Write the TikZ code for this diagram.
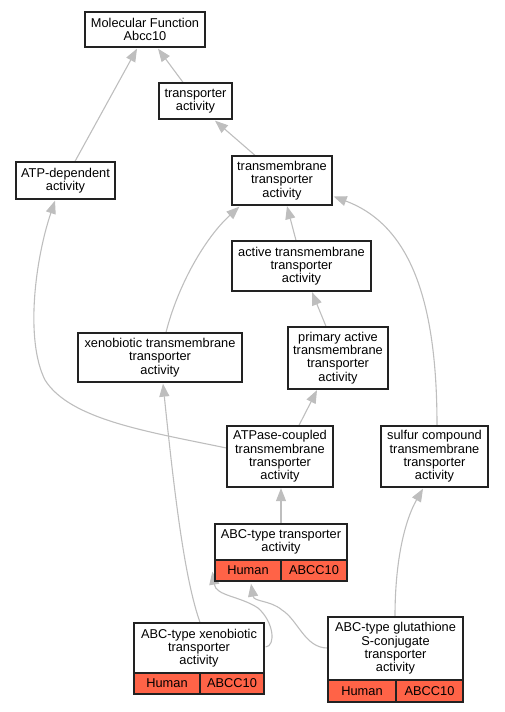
\documentclass[tikz,border=0pt]{standalone}
\usepackage{fontspec}
\setmainfont{Liberation Sans}
\usetikzlibrary{arrows.meta,calc,backgrounds}
\definecolor{cellred}{HTML}{FF6347}
\definecolor{edgegray}{HTML}{BEBEBE}
\definecolor{boxline}{HTML}{222222}
\begin{document}
\begin{tikzpicture}[x=1pt,y=-1pt,
  box/.style={draw=boxline,line width=1.3pt,fill=white,inner sep=0pt,align=center,
    font=\fontsize{12.8}{13.3}\selectfont},
  cell/.style={box,fill=cellred},
  edge/.style={draw=edgegray,line width=1.1pt,-{Triangle[length=13pt,width=10pt,fill=edgegray]}}]
\useasboundingbox (0,0) rectangle (504,712);
% nodes
\node[box,minimum width=120,minimum height=35] (mf) at (145,29.5) {Molecular Function\\Abcc10};
\node[box,minimum width=73,minimum height=36] (ta) at (195.5,101) {transporter\\activity};
\node[box,minimum width=99,minimum height=37] (atp) at (65.5,180.5) {ATP-dependent\\activity};
\node[box,minimum width=100,minimum height=49] (tm) at (282,180.5) {transmembrane\\transporter\\activity};
\node[box,minimum width=139,minimum height=50] (atm) at (301.5,266) {active transmembrane\\transporter\\activity};
\node[box,minimum width=100,minimum height=62] (pa) at (338,358) {primary active\\transmembrane\\transporter\\activity};
\node[box,minimum width=164,minimum height=49] (xtm) at (160,357.5) {xenobiotic transmembrane\\transporter\\activity};
\node[box,minimum width=106,minimum height=61] (atpase) at (280,456.5) {ATPase-coupled\\transmembrane\\transporter\\activity};
\node[box,minimum width=107,minimum height=61] (sulfur) at (434.5,456.5) {sulfur compound\\transmembrane\\transporter\\activity};
% ABC-type transporter activity
\node[box,minimum width=132,minimum height=36] (abct) at (281,542) {ABC-type transporter\\activity};
\node[cell,minimum width=66,minimum height=21] (abcth) at (248,570.5) {Human};
\node[cell,minimum width=66,minimum height=21] (abctg) at (314,570.5) {ABCC10};
% ABC-type xenobiotic transporter activity
\node[box,minimum width=130,minimum height=50] (abcx) at (199,648) {ABC-type xenobiotic\\transporter\\activity};
\node[cell,minimum width=66,minimum height=21] (abcxh) at (167,683.5) {Human};
\node[cell,minimum width=64,minimum height=21] (abcxg) at (232,683.5) {ABCC10};
% ABC-type glutathione S-conjugate transporter activity
\node[box,minimum width=135,minimum height=63] (abcg) at (395.5,648.5) {ABC-type glutathione\\S-conjugate\\transporter\\activity};
\node[cell,minimum width=68,minimum height=22] (abcgh) at (362,691) {Human};
\node[cell,minimum width=67,minimum height=22] (abcgg) at (429.5,691) {ABCC10};
% edges
\begin{scope}[on background layer]
\draw[edge] ($(ta.north)+(-12.5,0)$) -- ($(mf.south)+(13,1)$);
\draw[edge] ($(atp.north)+(9.5,0)$) -- ($(mf.south)+(-8,1)$);
\draw[edge] ($(tm.north)+(-27,0)$) -- ($(ta.south)+(19.5,1)$);
\draw[edge] ($(atm.north)+(-5.5,0)$) -- ($(tm.south)+(5,0.5)$);
\draw[edge] ($(pa.north)+(-12,0)$) -- ($(atm.south)+(10.5,0.5)$);
\draw[edge] ($(atpase.north)+(19,0)$) -- ($(pa.south)+(-21,0.5)$);
\draw[edge] (abct.north) -- ($(atpase.south)+(1,0.5)$);
\draw[edge] ($(xtm.north)+(6,0)$) .. controls (178,285) and (205,238) .. ($(tm.south west)+(8,1)$);
\draw[edge] ($(sulfur.north)+(2.5,0)$) .. controls (437,300) and (410,225) .. ($(tm.east)+(1,16)$);
\draw[edge] ($(atpase.west)+(0,-8.5)$) .. controls (150,432) and (70,420) .. (45,380)
  .. controls (25,340) and (35,260) .. ($(atp.south)+(-10.5,1)$);
\draw[edge] ($(abcx.north)+(1,0)$) .. controls (185,580) and (175,500) .. ($(xtm.south)+(3,1)$);
\draw[edge] ($(abcx.east)+(1,-1)$) .. controls (276,646) and (274,622) .. (258,608)
  .. controls (240,596) and (216,596) .. ($(abcth.south west)+(-2,-10)$);
\draw[edge] ($(abcg.west)+(0,-0.5)$) .. controls (305,648) and (298,620) .. (282,610)
  .. controls (270,600) and (254,602) .. ($(abcth.south)+(3,2)$);
\draw[edge] ($(abcg.north)+(-0.5,0)$) .. controls (395,560) and (405,520) .. ($(sulfur.south)+(-11.5,1)$);
\end{scope}
\end{tikzpicture}
\end{document}
